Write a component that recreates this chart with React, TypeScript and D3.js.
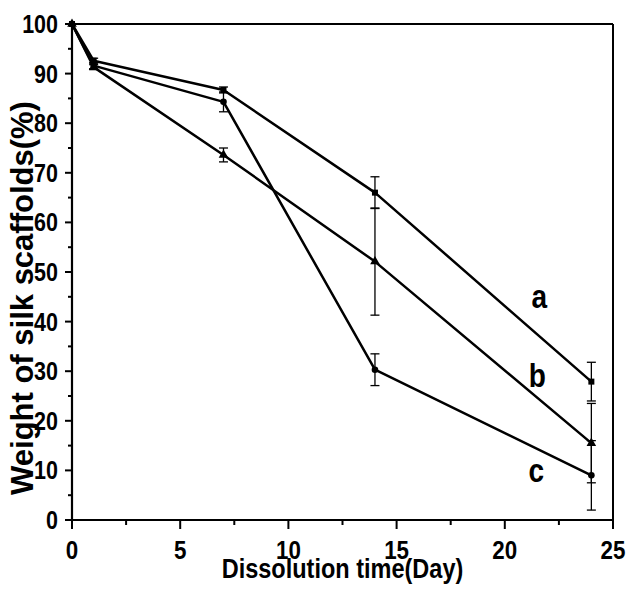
import React from "react";
import * as d3 from "d3";

const days = [0, 1, 7, 14, 24];
const seriesNames = ["a", "b", "c"];
const seriesA = [100, 92.6, 86.7, 66.0, 27.9];
const seriesB = [100, 91.3, 73.6, 52.1, 15.5];
const seriesC = [100, 91.6, 84.3, 30.3, 9.0];
const errA = [0, 0.5, 0.6, 3.2, 3.9];
const errB = [0, 0.5, 1.4, 10.8, 8.0];
const errC = [0, 0.6, 2.0, 3.2, 7.0];
const markerShapes = ["square", "triangle", "circle"];
const xTicks = [0, 5, 10, 15, 20, 25];
const xMinorTicks = [2.5, 7.5, 12.5, 17.5, 22.5];
const yTicks = [0, 10, 20, 30, 40, 50, 60, 70, 80, 90, 100];
const yMinorTicks = [5, 15, 25, 35, 45, 55, 65, 75, 85, 95];
const labelX = [21.6, 21.5, 21.45];
const labelY = [42.7, 26.8, 7.7];
const xTitle = "Dissolution time(Day)";
const yTitle = "Weight of silk scaffolds(%)";

const W = 637;
const H = 595;
const L = 72, R = 613, T = 24, B = 520;

export default function App() {
  const x = d3.scaleLinear().domain([0, 25]).range([L, R]);
  const y = d3.scaleLinear().domain([0, 100]).range([B, T]);
  const allSeries = [seriesA, seriesB, seriesC];
  const allErr = [errA, errB, errC];
  const line = d3
    .line<[number, number]>()
    .x((d) => x(d[0]))
    .y((d) => y(d[1]));
  const font = "'Liberation Sans', Arial, sans-serif";

  const marker = (shape: string, cx: number, cy: number, key: string) => {
    if (shape === "square")
      return <rect key={key} x={cx - 3} y={cy - 3} width={6} height={6} fill="#000" />;
    if (shape === "triangle") {
      const sym = d3.symbol().type(d3.symbolTriangle).size(40)();
      return <path key={key} d={sym || ""} transform={`translate(${cx},${cy})`} fill="#000" />;
    }
    return <circle key={key} cx={cx} cy={cy} r={3.3} fill="#000" />;
  };

  return (
    <svg width={W} height={H} style={{ position: "absolute", left: 0, top: 0, background: "#fff" }}>
      <rect x={0} y={0} width={W} height={H} fill="#fff" />
      {/* frame */}
      <line x1={L} x2={R} y1={T} y2={T} stroke="#000" strokeWidth={2} />
      <line x1={R} x2={R} y1={T} y2={B} stroke="#000" strokeWidth={2} />
      <line x1={L} x2={R + 1} y1={B} y2={B} stroke="#000" strokeWidth={2.2} />
      <line x1={L} x2={L} y1={T - 1} y2={B + 1} stroke="#000" strokeWidth={2.2} />
      {/* x ticks */}
      {xTicks.map((t) => (
        <g key={"xt" + t}>
          <line x1={x(t)} x2={x(t)} y1={B} y2={B + 9} stroke="#000" strokeWidth={2} />
          <text
            transform={`translate(${x(t)},${B + 39}) scale(0.86,1)`}
            textAnchor="middle"
            fontFamily={font}
            fontWeight="bold"
            fontSize={26}
          >
            {t}
          </text>
        </g>
      ))}
      {xMinorTicks.map((t) => (
        <line key={"xm" + t} x1={x(t)} x2={x(t)} y1={B} y2={B + 5} stroke="#000" strokeWidth={2} />
      ))}
      {/* y ticks */}
      {yTicks.map((t) => (
        <g key={"yt" + t}>
          <line x1={L - 7} x2={L} y1={y(t)} y2={y(t)} stroke="#000" strokeWidth={2} />
          <text
            transform={`translate(${L - 14},${y(t) + 9}) scale(0.86,1)`}
            textAnchor="end"
            fontFamily={font}
            fontWeight="bold"
            fontSize={25}
          >
            {t}
          </text>
        </g>
      ))}
      {yMinorTicks.map((t) => (
        <line key={"ym" + t} x1={L - 4} x2={L} y1={y(t)} y2={y(t)} stroke="#000" strokeWidth={2} />
      ))}
      {/* axis titles */}
      <text
        transform={`translate(${(L + R) / 2},578) scale(0.84,1)`}
        textAnchor="middle"
        fontFamily={font}
        fontWeight="bold"
        fontSize={28}
      >
        {xTitle}
      </text>
      <text
        transform={`translate(33,298) rotate(-90)`}
        textAnchor="middle"
        fontFamily={font}
        fontWeight="bold"
        fontSize={31}
      >
        {yTitle}
      </text>
      {/* error bars */}
      {allSeries.map((s, si) =>
        s.map((v, i) => {
          const e = allErr[si][i];
          if (!e) return null;
          const cx = x(days[i]);
          return (
            <g key={`e${si}-${i}`} stroke="#000" strokeWidth={1.3}>
              <line x1={cx} x2={cx} y1={y(v + e)} y2={y(v - e)} />
              <line x1={cx - 4.5} x2={cx + 4.5} y1={y(v + e)} y2={y(v + e)} />
              <line x1={cx - 4.5} x2={cx + 4.5} y1={y(v - e)} y2={y(v - e)} />
            </g>
          );
        })
      )}
      {/* lines */}
      {allSeries.map((s, si) => (
        <path
          key={"l" + si}
          d={line(days.map((d, i) => [d, s[i]] as [number, number])) || ""}
          fill="none"
          stroke="#000"
          strokeWidth={2.5}
          strokeLinejoin="round"
        />
      ))}
      {/* markers */}
      {allSeries.map((s, si) =>
        s.map((v, i) => marker(markerShapes[si], x(days[i]), y(v), `m${si}-${i}`))
      )}
      {/* series labels */}
      {seriesNames.map((n, i) => (
        <text
          key={"lab" + n}
          transform={`translate(${x(labelX[i])},${y(labelY[i])}) scale(0.85,1)`}
          textAnchor="middle"
          fontFamily={font}
          fontWeight="bold"
          fontSize={33}
        >
          {n}
        </text>
      ))}
    </svg>
  );
}
